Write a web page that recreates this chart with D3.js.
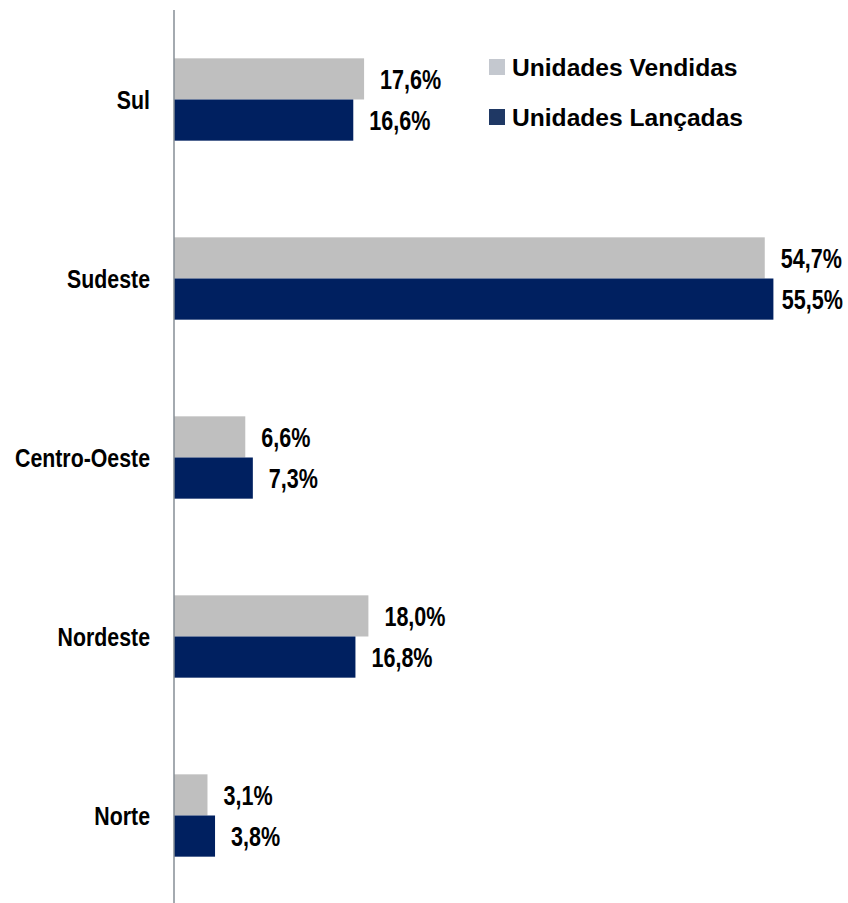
<!DOCTYPE html>
<html>
<head>
<meta charset="utf-8">
<title>Unidades por região</title>
<style>
	body { margin: 0; background: #fff; }
	.cat, .val { font-family: "Liberation Sans", Arial, sans-serif; font-weight: bold; fill: #000; }
	.leg { font-family: "Liberation Sans", Arial, sans-serif; font-weight: bold; fill: #000; }
</style>
</head>
<body>
<svg id="chart"></svg>
<script src="https://d3js.org/d3.v7.min.js"></script>
<script>
	// dados (%)
	var regioes = ["Sul", "Sudeste", "Centro-Oeste", "Nordeste", "Norte"];
	var series = ["Unidades Vendidas", "Unidades Lançadas"];
	var vendidas = [17.6, 54.7, 6.6, 18.0, 3.1];
	var lancadas = [16.6, 55.5, 7.3, 16.8, 3.8];

	var width = 848, height = 903;
	var barColors = ["#bfbfbf", "#002060"];
	var legColors = ["#c4c8cf", "#1f3864"];
	var narrowCat = 0.82, narrowVal = 0.77; // imita Arial Narrow

	var svg = d3.select("#chart")
		.attr("width", width)
		.attr("height", height);

	var y = d3.scaleBand()
		.domain(regioes)
		.range([10, 905])
		.paddingInner(0.54)
		.paddingOuter(0.27);

	var ySub = d3.scaleBand()
		.domain(series)
		.range([0, y.bandwidth()]);

	var x = d3.scaleLinear()
		.domain([0, 62])
		.range([174, 174 + 62 * 10.8]);

	var fmt = function(v) { return v.toFixed(1).replace(".", ",") + "%"; };

	var rows = regioes.map(function(r, i) {
		return { regiao: r, valores: [vendidas[i], lancadas[i]] };
	});

	var grupos = svg.append("g").selectAll("g")
		.data(rows)
		.enter().append("g")
		.attr("transform", function(d) { return "translate(0," + y(d.regiao) + ")"; });

	grupos.selectAll("rect")
		.data(function(d) { return d.valores.map(function(v, j) { return { s: series[j], v: v, j: j }; }); })
		.enter().append("rect")
		.attr("x", x(0))
		.attr("y", function(d) { return ySub(d.s); })
		.attr("width", function(d) { return x(d.v) - x(0); })
		.attr("height", ySub.bandwidth())
		.attr("fill", function(d) { return barColors[d.j]; });

	grupos.selectAll("text.val")
		.data(function(d) { return d.valores.map(function(v, j) { return { s: series[j], v: v }; }); })
		.enter().append("text")
		.attr("class", "val")
		.attr("dy", "0.35em")
		.style("font-size", "28px")
		.text(function(d) { return fmt(d.v); })
		.attr("transform", function(d) {
			var w = this.getComputedTextLength() * narrowVal;
			var tx = Math.min(x(d.v) + 16, width - 5 - w);
			var ty = ySub(d.s) + ySub.bandwidth() / 2;
			return "translate(" + tx + "," + ty + ") scale(" + narrowVal + ",1)";
		});

	// eixo vertical (sem ticks)
	svg.append("line")
		.attr("x1", x(0)).attr("x2", x(0))
		.attr("y1", 10).attr("y2", 903)
		.attr("stroke", "#868e96")
		.attr("stroke-width", 1.5);

	svg.append("g").selectAll("text")
		.data(regioes)
		.enter().append("text")
		.attr("class", "cat")
		.attr("transform", function(d) { return "translate(150," + (y(d) + y.bandwidth() / 2) + ") scale(" + narrowCat + ",1)"; })
		.attr("dy", "0.35em")
		.attr("text-anchor", "end")
		.style("font-size", "26px")
		.text(function(d) { return d; });

	// legenda
	var leg = svg.append("g").attr("transform", "translate(489,59)");
	var item = leg.selectAll("g")
		.data(series)
		.enter().append("g")
		.attr("transform", function(d, i) { return "translate(0," + (i * 50) + ")"; });
	item.append("rect")
		.attr("width", 16).attr("height", 16)
		.attr("fill", function(d, i) { return legColors[i]; });
	item.append("text")
		.attr("class", "leg")
		.attr("x", 23)
		.attr("y", 8)
		.attr("dy", "0.35em")
		.style("font-size", "24.6px")
		.text(function(d) { return d; });
</script>
</body>
</html>
